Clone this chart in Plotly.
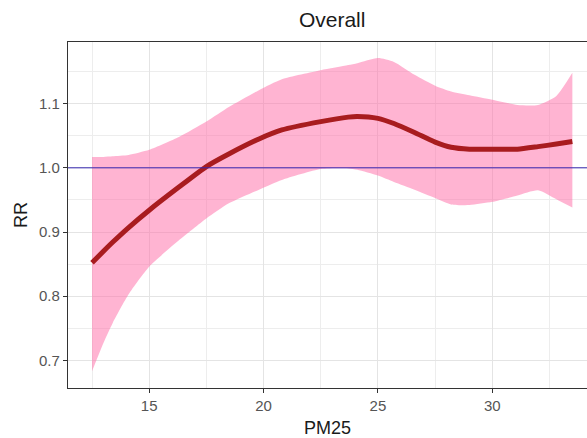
import plotly.graph_objects as go

pm25 = [12.5, 13.0, 13.4, 14.1, 15.0, 16.3, 17.5, 18.5, 19.8, 20.8, 22.5, 23.7, 24.1,
        25.0, 25.7, 26.6, 27.5, 28.2, 29.0, 30.0, 31.1, 32.0, 32.8, 33.5]
rr = [0.852, 0.870, 0.884, 0.907, 0.934, 0.970, 1.002, 1.022, 1.045, 1.059, 1.072, 1.079, 1.080,
      1.077, 1.069, 1.055, 1.040, 1.032, 1.029, 1.029, 1.029, 1.033, 1.037, 1.041]
upper = [1.017, 1.017, 1.018, 1.020, 1.028, 1.048, 1.072, 1.095, 1.121, 1.138, 1.152, 1.160, 1.163,
         1.171, 1.165, 1.145, 1.128, 1.119, 1.113, 1.106, 1.098, 1.098, 1.112, 1.148]
lower = [0.683, 0.727, 0.758, 0.803, 0.846, 0.887, 0.921, 0.945, 0.966, 0.981, 0.998, 0.999, 0.997,
         0.988, 0.978, 0.966, 0.953, 0.943, 0.942, 0.947, 0.957, 0.965, 0.951, 0.938]
ref_value = 1.0
x_ticks = [15, 20, 25, 30]
y_ticks = [0.7, 0.8, 0.9, 1.0, 1.1]

FONT = "Liberation Sans, Arial, sans-serif"

fig = go.Figure()
fig.add_trace(go.Scatter(x=pm25, y=lower, mode="lines", line=dict(width=0, shape="spline", smoothing=0.6),
                         showlegend=False, hoverinfo="skip"))
fig.add_trace(go.Scatter(x=pm25, y=upper, mode="lines", line=dict(width=0, shape="spline", smoothing=0.6),
                         fill="tonexty", fillcolor="rgba(255,105,165,0.5)", showlegend=False, hoverinfo="skip"))
fig.add_trace(go.Scatter(x=pm25, y=rr, mode="lines",
                         line=dict(color="#A81C1F", width=5, shape="spline", smoothing=0.6),
                         showlegend=False))
fig.add_hline(y=ref_value, line=dict(color="#3526B0", width=1))

axis_common = dict(
    showline=True, linecolor="#333333", linewidth=1.3,
    ticks="outside", ticklen=4, tickcolor="#333333", tickwidth=1,
    tickfont=dict(family=FONT, size=15, color="#555555"),
    showgrid=True, gridcolor="#E4E4E4", gridwidth=1,
    zeroline=False,
)

fig.update_layout(
    width=587, height=438,
    margin=dict(l=68, r=0, t=42, b=50),
    paper_bgcolor="white", plot_bgcolor="white",
    title=dict(text="Overall", x=0.509, xref="paper", xanchor="center", y=0.955, yanchor="middle",
               font=dict(family=FONT, size=21, color="#1A1A1A")),
    xaxis=dict(range=[11.45, 34.14], tickvals=x_ticks, mirror=True,
               minor=dict(dtick=2.5, tick0=12.5, showgrid=True, gridcolor="#EDEDED", gridwidth=0.7, ticks=""),
               title=dict(text="PM25", standoff=8, font=dict(family=FONT, size=18, color="#1A1A1A")),
               **axis_common),
    yaxis=dict(range=[0.657, 1.196], tickvals=y_ticks, tickformat=".1f",
               minor=dict(dtick=0.05, tick0=0.65, showgrid=True, gridcolor="#EDEDED", gridwidth=0.7, ticks=""),
               title=dict(text="RR", standoff=6, font=dict(family=FONT, size=18, color="#1A1A1A")),
               **axis_common),
)

fig.write_html("out.html")
